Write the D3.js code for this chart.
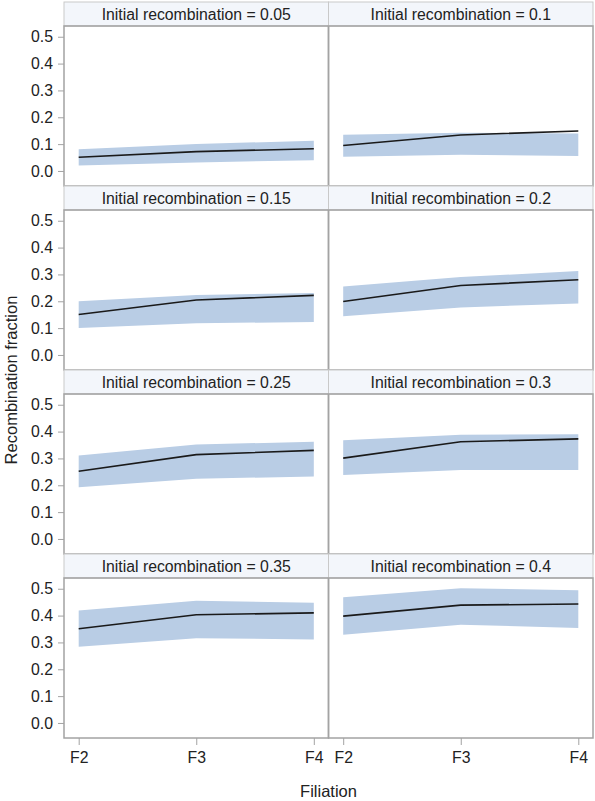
<!DOCTYPE html>
<html>
<head>
<meta charset="utf-8">
<script src="https://cdn.jsdelivr.net/npm/d3@7"></script>
<style>
  body { margin: 0; background: #fff; }
  svg { display: block; font-family: "Liberation Sans", Arial, sans-serif; }
  .tick text { fill: #222; }
</style>
</head>
<body>
<svg width="595" height="801"></svg>
<script>
'use strict';

// panel data
var filiations = ['F2', 'F3', 'F4'];
var initialRec = [0.05, 0.1, 0.15, 0.2, 0.25, 0.3, 0.35, 0.4];
var meanRec = [
    [0.051, 0.072, 0.083],
    [0.095, 0.134, 0.149],
    [0.151, 0.205, 0.222],
    [0.199, 0.259, 0.280],
    [0.252, 0.314, 0.330],
    [0.301, 0.362, 0.373],
    [0.351, 0.403, 0.410],
    [0.398, 0.439, 0.443]
];
var lowerRec = [
    [0.020, 0.032, 0.040],
    [0.053, 0.060, 0.056],
    [0.100, 0.118, 0.123],
    [0.144, 0.177, 0.192],
    [0.193, 0.224, 0.233],
    [0.238, 0.257, 0.257],
    [0.284, 0.316, 0.311],
    [0.329, 0.366, 0.354]
];
var upperRec = [
    [0.081, 0.100, 0.113],
    [0.135, 0.142, 0.140],
    [0.200, 0.223, 0.231],
    [0.255, 0.290, 0.313],
    [0.311, 0.352, 0.362],
    [0.368, 0.388, 0.390],
    [0.419, 0.455, 0.448],
    [0.468, 0.502, 0.494]
];
var yTicks = [0, 0.1, 0.2, 0.3, 0.4, 0.5];

var LEFT = 64, COL_W = 264.5, TOP = 2, ROW_PITCH = 184, HEAD_H = 24, PLOT_H = 160;
var NCOL = 2, NROW = 4;

var svg = d3.select('svg');

var x = d3.scalePoint().domain(filiations).range([0, COL_W]).padding(0.125);
var y = d3.scaleLinear().domain([-0.056, 0.54]).range([PLOT_H, 0]);

var axisX = d3.axisBottom(x).tickSize(7).tickSizeOuter(0).tickPadding(7);
var axisY = d3.axisLeft(y).tickValues(yTicks).tickSize(6).tickPadding(5)
    .tickFormat(d3.format('.1f'));

var band = d3.area()
    .x(function(d) { return x(d.f); })
    .y0(function(d) { return y(d.lo); })
    .y1(function(d) { return y(d.hi); });

var line = d3.line()
    .x(function(d) { return x(d.f); })
    .y(function(d) { return y(d.m); });

initialRec.forEach(function(r, i) {
    var col = i % NCOL;
    var row = Math.floor(i / NCOL);
    var px = LEFT + col * COL_W;
    var py = TOP + row * ROW_PITCH;

    var g = svg.append('g').attr('transform', 'translate(' + px + ',' + py + ')');

    //header strip
    g.append('rect')
        .attr('x', 0).attr('y', 0)
        .attr('width', COL_W).attr('height', HEAD_H)
        .attr('fill', '#f3f6fb')
        .attr('stroke', '#c9c9c9');
    g.append('text')
        .attr('x', COL_W / 2).attr('y', HEAD_H / 2 + 5.5)
        .attr('text-anchor', 'middle')
        .attr('font-size', 15.8)
        .attr('fill', '#222')
        .text('Initial recombination = ' + r);

    var plot = g.append('g').attr('transform', 'translate(0,' + HEAD_H + ')');

    var pts = filiations.map(function(f, k) {
        return { f: f, m: meanRec[i][k], lo: lowerRec[i][k], hi: upperRec[i][k] };
    });

    plot.append('path')
        .datum(pts)
        .attr('fill', '#b9cde5')
        .attr('d', band);

    plot.append('path')
        .datum(pts)
        .attr('fill', 'none')
        .attr('stroke', '#1a1a1a')
        .attr('stroke-width', 1.6)
        .attr('d', line);

    plot.append('rect')
        .attr('x', 0).attr('y', 0)
        .attr('width', COL_W).attr('height', PLOT_H)
        .attr('fill', 'none')
        .attr('stroke', '#a3a3a3')
        .attr('stroke-width', 1.5);

    //axis y on left column only
    if (col === 0) {
        var ay = plot.append('g').call(axisY);
        ay.select('.domain').remove();
        ay.selectAll('.tick line').attr('stroke', '#a3a3a3');
        ay.selectAll('.tick text').attr('font-size', 15.8);
    }

    //axis x on bottom row only
    if (row === NROW - 1) {
        var ax = plot.append('g')
            .attr('transform', 'translate(0,' + PLOT_H + ')')
            .call(axisX);
        ax.select('.domain').remove();
        ax.selectAll('.tick line').attr('stroke', '#a3a3a3');
        ax.selectAll('.tick text').attr('font-size', 15.8);
    }
});

//axis titles
svg.append('text')
    .attr('x', LEFT + COL_W)
    .attr('y', 797)
    .attr('text-anchor', 'middle')
    .attr('font-size', 16.5)
    .attr('fill', '#222')
    .text('Filiation');

svg.append('text')
    .attr('transform', 'translate(17,' + (TOP + (NROW * ROW_PITCH) / 2 + 10) + ') rotate(-90)')
    .attr('text-anchor', 'middle')
    .attr('font-size', 16.5)
    .attr('fill', '#222')
    .text('Recombination fraction');
</script>
</body>
</html>
